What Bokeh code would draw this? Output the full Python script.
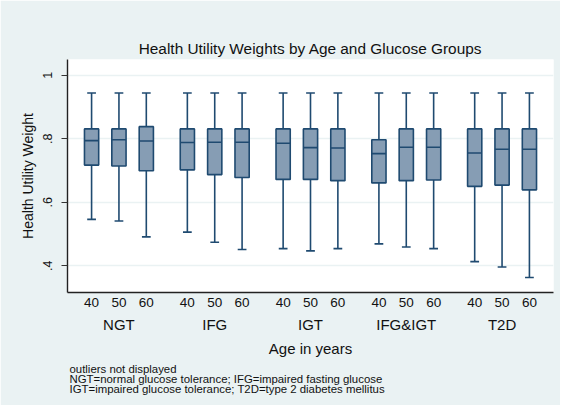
import numpy as np
from bokeh.plotting import figure
from bokeh.models import (Range1d, FixedTicker, LinearAxis, Title,
                          CustomJSTickFormatter, ColumnDataSource)
from bokeh.embed import file_html
from bokeh.resources import INLINE

# ---------------- data ----------------
groups = ["NGT", "IFG", "IGT", "IFG&IGT", "T2D"]
ages = ["40", "50", "60"]

upper_whisker = [0.944, 0.944, 0.944, 0.944, 0.944, 0.944, 0.944, 0.944,
                 0.944, 0.944, 0.944, 0.944, 0.944, 0.944, 0.944]
q3 = [0.831, 0.831, 0.838, 0.831, 0.831, 0.831, 0.831, 0.831, 0.831,
      0.797, 0.831, 0.831, 0.831, 0.831, 0.831]
median = [0.794, 0.797, 0.793, 0.788, 0.789, 0.789, 0.786, 0.772, 0.771,
          0.753, 0.773, 0.773, 0.755, 0.767, 0.767]
q1 = [0.717, 0.714, 0.699, 0.702, 0.687, 0.678, 0.672, 0.672, 0.668,
      0.661, 0.668, 0.670, 0.650, 0.654, 0.639]
lower_whisker = [0.546, 0.541, 0.491, 0.506, 0.474, 0.451, 0.454, 0.447,
                 0.454, 0.469, 0.459, 0.454, 0.413, 0.396, 0.363]

y_ticks = [0.4, 0.6, 0.8, 1.0]
footnotes = ["outliers not displayed",
             "NGT=normal glucose tolerance; IFG=impaired fasting glucose",
             "IGT=impaired glucose tolerance; T2D=type 2 diabetes mellitus"]

# ---------------- layout helpers ----------------
GROUP_STEP = 7
AGE_STEP = 2
xs = [g * GROUP_STEP + a * AGE_STEP for g in range(len(groups)) for a in range(len(ages))]
age_labels = [ages[a] for g in range(len(groups)) for a in range(len(ages))]
group_centers = [g * GROUP_STEP + AGE_STEP for g in range(len(groups))]

BOX_W = 1.04
CAP_W = 0.64
xa = np.array(xs, dtype=float)

src = ColumnDataSource(dict(
    x=xa, q1=q1, q3=q3, med=median, lo=lower_whisker, hi=upper_whisker,
    xl=xa - BOX_W / 2, xr=xa + BOX_W / 2,
    cl=xa - CAP_W / 2, cr=xa + CAP_W / 2,
))

NAVY = "#1f4a70"
FILL = "#869db4"
BG = "#eaf2f3"
FONT = "Liberation Sans"

W, H = 560, 405
p = figure(width=W, height=H,
           x_range=Range1d(-1.76, 32 + 1.76),
           y_range=Range1d(0.3158, 1.0495),
           output_backend="svg", toolbar_location=None,
           min_border_left=67, min_border_right=W - 553,
           min_border_top=59, min_border_bottom=H - 292)

p.background_fill_color = "white"
p.border_fill_color = BG
p.outline_line_color = None

# title
p.title.text = "Health Utility Weights by Age and Glucose Groups"
p.title.align = "center"
p.title.text_font = FONT
p.title.text_font_size = "15.4px"
p.title.text_font_style = "normal"
p.title.text_color = "#111111"
p.title.standoff = 5

# grid
p.xgrid.grid_line_color = None
p.ygrid.ticker = FixedTicker(ticks=y_ticks)
p.ygrid.grid_line_color = BG
p.ygrid.grid_line_width = 1.5

# whiskers
p.segment(x0="x", y0="q3", x1="x", y1="hi", source=src, line_color=NAVY, line_width=1.6)
p.segment(x0="x", y0="q1", x1="x", y1="lo", source=src, line_color=NAVY, line_width=1.6)
p.segment(x0="cl", y0="hi", x1="cr", y1="hi", source=src, line_color=NAVY, line_width=1.6)
p.segment(x0="cl", y0="lo", x1="cr", y1="lo", source=src, line_color=NAVY, line_width=1.6)
# boxes
p.quad(left="xl", right="xr", top="q3", bottom="q1", source=src,
       fill_color=FILL, line_color=NAVY, line_width=1.6)
p.segment(x0="xl", y0="med", x1="xr", y1="med", source=src, line_color=NAVY, line_width=1.6)

# y axis
ya = p.yaxis[0]
ya.ticker = FixedTicker(ticks=y_ticks)
ya.formatter = CustomJSTickFormatter(code="""
    const s = String(Math.round(tick * 10) / 10);
    return s.startsWith('0') ? s.slice(1) : s;
""")
ya.major_label_orientation = "vertical"
ya.major_label_text_font = FONT
ya.major_label_text_font_size = "12.5px"
ya.major_label_text_color = "#111111"
ya.major_label_standoff = 9
ya.major_tick_out = 6
ya.major_tick_in = 0
ya.major_tick_line_color = "#333333"
ya.major_tick_line_width = 1.2
ya.minor_tick_line_color = None
ya.axis_line_color = "#222222"
ya.axis_line_width = 1.4
ya.axis_label = "Health Utility Weight"
ya.axis_label_text_font = FONT
ya.axis_label_text_font_size = "14px"
ya.axis_label_text_font_style = "normal"
ya.axis_label_text_color = "#111111"
ya.axis_label_standoff = 5

# x axis: ages
xa0 = p.xaxis[0]
xa0.ticker = FixedTicker(ticks=xs)
xa0.formatter = CustomJSTickFormatter(args=dict(pos=xs, labels=age_labels), code="""
    const i = pos.indexOf(tick);
    return i >= 0 ? labels[i] : '';
""")
xa0.major_tick_out = 0
xa0.major_tick_in = 0
xa0.major_tick_line_color = None
xa0.minor_tick_line_color = None
xa0.major_label_standoff = 5
xa0.major_label_text_font = FONT
xa0.major_label_text_font_size = "13.5px"
xa0.major_label_text_color = "#111111"
xa0.axis_line_color = "#222222"
xa0.axis_line_width = 1.4

# x axis: groups
ax2 = LinearAxis(
    ticker=FixedTicker(ticks=group_centers),
    formatter=CustomJSTickFormatter(args=dict(pos=group_centers, labels=groups), code="""
        const i = pos.indexOf(tick);
        return i >= 0 ? labels[i] : '';
    """),
    axis_line_color=None, major_tick_line_color=None, minor_tick_line_color=None,
    major_tick_out=0, major_tick_in=0, major_label_standoff=6,
    major_label_text_font=FONT, major_label_text_font_size="15px",
    major_label_text_color="#111111",
    axis_label="Age in years", axis_label_text_font=FONT,
    axis_label_text_font_size="15px", axis_label_text_font_style="normal",
    axis_label_text_color="#111111", axis_label_standoff=4,
)
p.add_layout(ax2, "below")

# footnotes (one multi-line note)
note = Title(text="\n".join(footnotes), align="left", text_font=FONT,
             text_font_size="11.4px", text_font_style="normal",
             text_color="#111111", text_line_height=0.85, standoff=3, offset=2)
p.add_layout(note, "below")

open("out.html", "w").write(file_html(p, INLINE))
